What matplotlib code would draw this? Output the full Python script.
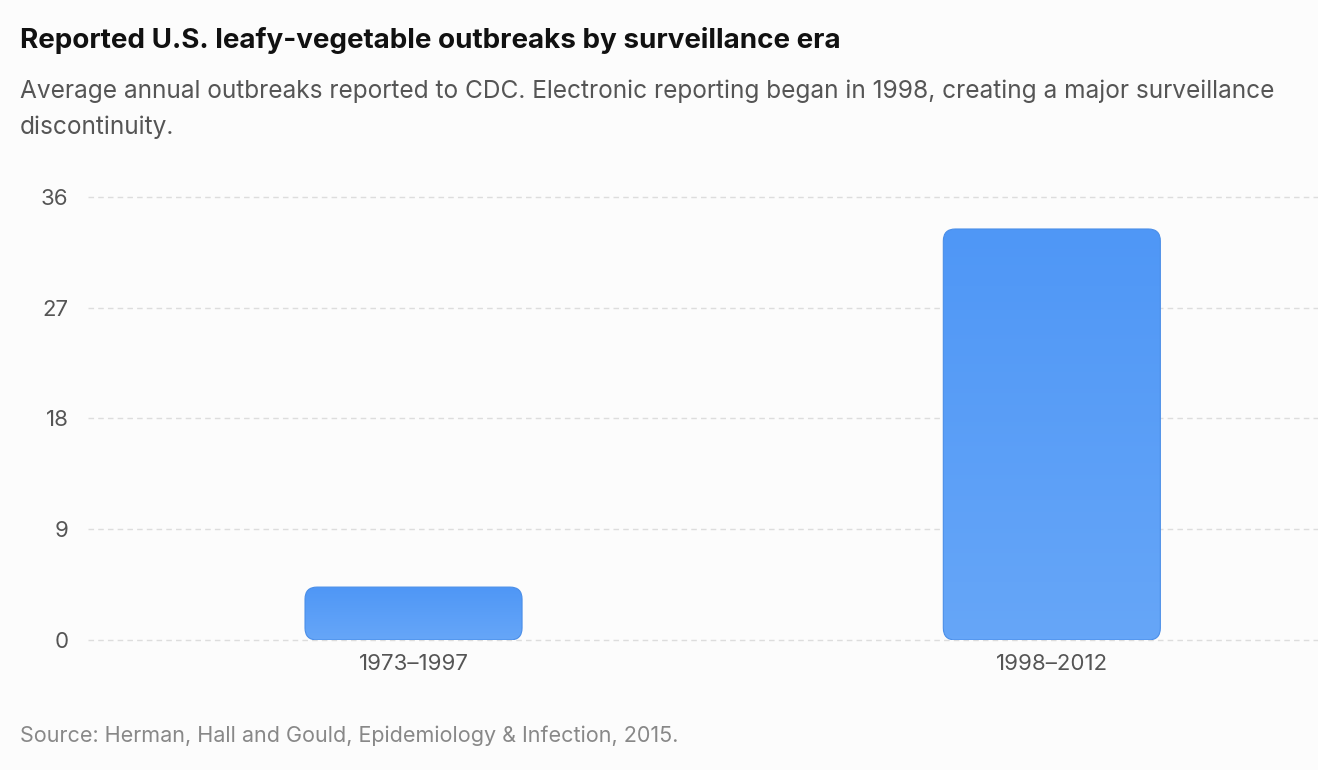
import numpy as np
import matplotlib.pyplot as plt
from matplotlib.patches import FancyBboxPatch
from matplotlib.colors import LinearSegmentedColormap

plt.rcParams['font.family'] = ['Inter', 'DejaVu Sans']

eras = ['1973–1997', '1998–2012']
outbreaks = [4.3, 33.4]
y_ticks = [0, 9, 18, 27, 36]

title = 'Reported U.S. leafy-vegetable outbreaks by surveillance era'
subtitle_lines = ['Average annual outbreaks reported to CDC. Electronic reporting began in 1998, '
                  'creating a major surveillance',
                  'discontinuity.']
source = 'Source: Herman, Hall and Gould, Epidemiology & Infection, 2015.'

bg = '#fcfcfc'
fig = plt.figure(figsize=(13.18, 7.7), dpi=100, facecolor=bg)
ax = fig.add_axes([88 / 1318, 130 / 770, 1 - 88 / 1318, 443 / 770])
ax.set_facecolor(bg)

x = np.arange(len(eras))
bar_w = 0.34
ax.set_xlim(-0.51, 1.417)
ax.set_ylim(0, 36)

# px per data unit, used to keep corners round
px_x = 638.5
px_y = 443 / 36
radius_px = 12
grad = LinearSegmentedColormap.from_list('g', ['#66a6f8', '#4f97f6'])

for xi, v in zip(x, outbreaks):
    patch = FancyBboxPatch((xi - bar_w / 2, 0), bar_w, v,
                           boxstyle=f'round,pad=0,rounding_size={radius_px / px_x}',
                           mutation_aspect=px_x / px_y,
                           facecolor='none', edgecolor='#4a8ee8', linewidth=0.8,
                           zorder=3)
    ax.add_patch(patch)
    img = ax.imshow(np.linspace(0, 1, 100).reshape(-1, 1), cmap=grad, aspect='auto',
                    extent=[xi - bar_w / 2, xi + bar_w / 2, 0, v], origin='lower',
                    zorder=2)
    img.set_clip_path(patch)

ax.set_xlim(-0.51, 1.417)
ax.set_ylim(0, 36)

ax.set_yticks(y_ticks)
ax.set_yticklabels([str(t) for t in y_ticks])
ax.set_xticks(x)
ax.set_xticklabels(eras)
ax.tick_params(axis='both', length=0, labelsize=16, labelcolor='#555555')
ax.tick_params(axis='y', pad=14)
ax.tick_params(axis='x', pad=10)

for t in y_ticks:
    ax.axhline(t, color='#dddddd', linewidth=1, dashes=(4, 3), zorder=1, clip_on=False)

for s in ax.spines.values():
    s.set_visible(False)

fig.text(20 / 1318, 1 - 40 / 770, title, fontsize=20, fontweight='bold',
         color='#111111', va='center', ha='left')
for i, line in enumerate(subtitle_lines):
    fig.text(20 / 1318, 1 - (91 + 36 * i) / 770, line, fontsize=17.6, color='#555555',
             va='center', ha='left')
fig.text(20 / 1318, 1 - 736 / 770, source, fontsize=15.5, color='#888888',
         va='center', ha='left')

fig.savefig('out.png', dpi=100, facecolor=bg)
